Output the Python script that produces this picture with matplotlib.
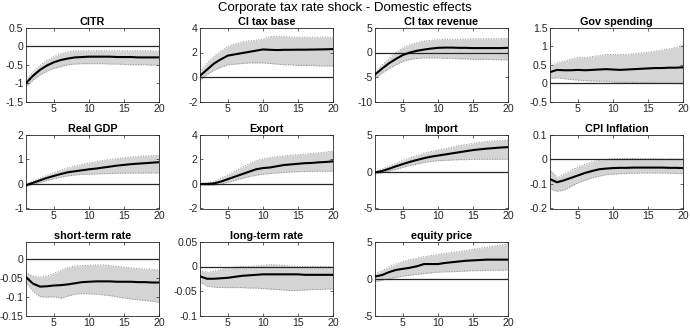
import matplotlib
matplotlib.use("Agg")
import matplotlib.pyplot as plt
import numpy as np

plt.rcParams['font.family'] = ['Liberation Sans', 'DejaVu Sans']

horizon = list(range(1, 21))

titles = ["CITR", "CI tax base", "CI tax revenue", "Gov spending",
          "Real GDP", "Export", "Import", "CPI Inflation",
          "short-term rate", "long-term rate", "equity price"]

citr_med = [-1.0, -0.8, -0.64, -0.52, -0.43, -0.37, -0.33, -0.30, -0.29, -0.28, -0.28, -0.28, -0.28, -0.29, -0.29, -0.29, -0.3, -0.3, -0.3, -0.3]
citr_up = [-0.92, -0.7, -0.52, -0.38, -0.28, -0.2, -0.15, -0.12, -0.12, -0.12, -0.12, -0.12, -0.12, -0.12, -0.12, -0.12, -0.12, -0.12, -0.12, -0.13]
citr_lo = [-1.1, -0.92, -0.78, -0.67, -0.6, -0.55, -0.5, -0.48, -0.47, -0.47, -0.47, -0.47, -0.48, -0.48, -0.49, -0.5, -0.5, -0.5, -0.51, -0.52]

base_med = [0.1, 0.6, 1.1, 1.45, 1.75, 1.85, 1.95, 2.05, 2.15, 2.25, 2.22, 2.2, 2.22, 2.22, 2.23, 2.23, 2.24, 2.25, 2.26, 2.28]
base_up = [0.4, 1.1, 1.7, 2.1, 2.5, 2.7, 2.85, 2.95, 3.0, 3.1, 3.3, 3.3, 3.3, 3.25, 3.25, 3.25, 3.25, 3.25, 3.25, 3.25]
base_lo = [-0.3, 0.2, 0.55, 0.8, 1.0, 1.05, 1.1, 1.15, 1.15, 1.15, 1.1, 1.05, 1.0, 1.0, 0.95, 0.95, 0.95, 0.9, 0.9, 0.9]

rev_med = [-4.5, -3.3, -2.2, -1.3, -0.5, 0.0, 0.35, 0.6, 0.8, 0.95, 1.0, 1.0, 0.95, 0.95, 0.9, 0.9, 0.9, 0.9, 0.9, 0.95]
rev_up = [-4.0, -2.6, -1.2, 0.0, 1.0, 1.6, 2.0, 2.3, 2.5, 2.6, 2.7, 2.7, 2.7, 2.75, 2.8, 2.8, 2.8, 2.8, 2.85, 2.9]
rev_lo = [-5.3, -4.2, -3.3, -2.5, -1.8, -1.4, -1.2, -1.1, -1.1, -1.1, -1.2, -1.2, -1.3, -1.3, -1.4, -1.4, -1.4, -1.45, -1.5, -1.5]

gov_med = [0.3, 0.36, 0.35, 0.35, 0.36, 0.35, 0.36, 0.37, 0.38, 0.37, 0.36, 0.37, 0.38, 0.39, 0.4, 0.41, 0.41, 0.42, 0.42, 0.43]
gov_up = [0.45, 0.55, 0.6, 0.65, 0.7, 0.7, 0.72, 0.75, 0.78, 0.78, 0.78, 0.78, 0.8, 0.82, 0.84, 0.87, 0.9, 0.93, 0.97, 1.02]
gov_lo = [0.12, 0.15, 0.12, 0.1, 0.08, 0.07, 0.06, 0.05, 0.05, 0.03, 0.02, 0.02, 0.02, 0.01, 0.01, 0.0, 0.0, 0.0, -0.01, -0.02]

gdp_med = [-0.05, 0.05, 0.15, 0.25, 0.33, 0.41, 0.48, 0.52, 0.56, 0.6, 0.63, 0.67, 0.71, 0.75, 0.78, 0.81, 0.83, 0.85, 0.87, 0.89]
gdp_up = [0.0, 0.12, 0.24, 0.36, 0.47, 0.57, 0.66, 0.73, 0.8, 0.86, 0.91, 0.96, 1.0, 1.04, 1.07, 1.1, 1.12, 1.14, 1.16, 1.17]
gdp_lo = [-0.1, -0.02, 0.06, 0.14, 0.21, 0.28, 0.33, 0.37, 0.39, 0.4, 0.41, 0.42, 0.43, 0.44, 0.44, 0.45, 0.45, 0.45, 0.45, 0.45]

exp_med = [0.0, 0.0, 0.05, 0.2, 0.4, 0.6, 0.8, 1.0, 1.2, 1.3, 1.35, 1.45, 1.55, 1.6, 1.65, 1.7, 1.72, 1.77, 1.8, 1.85]
exp_up = [0.1, 0.1, 0.2, 0.45, 0.75, 1.05, 1.35, 1.65, 1.9, 2.05, 2.15, 2.25, 2.3, 2.35, 2.4, 2.45, 2.5, 2.55, 2.6, 2.7]
exp_lo = [-0.1, -0.1, -0.1, 0.0, 0.15, 0.3, 0.45, 0.6, 0.72, 0.8, 0.85, 0.9, 0.95, 0.98, 1.0, 1.02, 1.03, 1.05, 1.05, 1.05]

imp_med = [-0.1, 0.1, 0.4, 0.75, 1.05, 1.35, 1.6, 1.85, 2.05, 2.2, 2.35, 2.5, 2.65, 2.8, 2.95, 3.05, 3.15, 3.22, 3.3, 3.35]
imp_up = [0.05, 0.35, 0.75, 1.15, 1.55, 1.9, 2.2, 2.5, 2.75, 2.95, 3.15, 3.35, 3.55, 3.7, 3.85, 4.0, 4.1, 4.2, 4.25, 4.3]
imp_lo = [-0.3, -0.15, 0.1, 0.35, 0.6, 0.85, 1.05, 1.25, 1.4, 1.5, 1.55, 1.6, 1.65, 1.65, 1.7, 1.7, 1.7, 1.7, 1.7, 1.7]

cpi_med = [-0.08, -0.093, -0.085, -0.075, -0.065, -0.055, -0.047, -0.04, -0.037, -0.035, -0.034, -0.034, -0.033, -0.033, -0.033, -0.033, -0.033, -0.034, -0.034, -0.035]
cpi_up = [-0.04, -0.075, -0.06, -0.045, -0.03, -0.02, -0.01, -0.003, 0.0, 0.003, 0.004, 0.004, 0.004, 0.003, 0.003, 0.003, 0.002, 0.002, 0.002, 0.002]
cpi_lo = [-0.12, -0.13, -0.125, -0.11, -0.095, -0.085, -0.075, -0.068, -0.062, -0.06, -0.058, -0.057, -0.056, -0.055, -0.055, -0.055, -0.055, -0.056, -0.057, -0.058]

str_med = [-0.048, -0.065, -0.073, -0.072, -0.07, -0.069, -0.067, -0.064, -0.061, -0.06, -0.059, -0.059, -0.059, -0.06, -0.06, -0.06, -0.061, -0.061, -0.062, -0.062]
str_up = [-0.035, -0.045, -0.048, -0.045, -0.038, -0.03, -0.022, -0.018, -0.017, -0.016, -0.015, -0.015, -0.017, -0.019, -0.021, -0.023, -0.025, -0.026, -0.027, -0.028]
str_lo = [-0.062, -0.085, -0.1, -0.101, -0.1, -0.104, -0.098, -0.093, -0.092, -0.092, -0.093, -0.095, -0.097, -0.1, -0.103, -0.106, -0.108, -0.11, -0.112, -0.115]

ltr_med = [-0.02, -0.025, -0.025, -0.024, -0.023, -0.021, -0.019, -0.018, -0.017, -0.016, -0.016, -0.016, -0.016, -0.016, -0.016, -0.017, -0.017, -0.017, -0.017, -0.017]
ltr_up = [-0.008, -0.012, -0.01, -0.006, -0.003, -0.001, 0.0, 0.0, 0.001, 0.002, 0.004, 0.003, 0.002, 0.001, 0.0, 0.0, 0.0, 0.0, 0.0, 0.0]
ltr_lo = [-0.032, -0.04, -0.042, -0.043, -0.043, -0.043, -0.043, -0.044, -0.044, -0.045, -0.046, -0.047, -0.048, -0.049, -0.049, -0.048, -0.047, -0.047, -0.046, -0.046]

eq_med = [0.3, 0.5, 0.9, 1.2, 1.35, 1.5, 1.7, 2.0, 2.0, 2.0, 2.15, 2.25, 2.35, 2.45, 2.5, 2.55, 2.6, 2.6, 2.6, 2.6]
eq_up = [0.6, 1.1, 1.6, 2.0, 2.35, 2.6, 2.8, 3.0, 3.15, 3.3, 3.45, 3.6, 3.7, 3.85, 4.0, 4.15, 4.3, 4.45, 4.6, 4.75]
eq_lo = [-0.4, -0.2, 0.0, 0.2, 0.35, 0.5, 0.6, 0.7, 0.8, 0.9, 0.95, 0.95, 1.0, 1.05, 1.1, 1.1, 1.15, 1.15, 1.15, 1.2]

medians = [citr_med, base_med, rev_med, gov_med, gdp_med, exp_med, imp_med, cpi_med, str_med, ltr_med, eq_med]
uppers = [citr_up, base_up, rev_up, gov_up, gdp_up, exp_up, imp_up, cpi_up, str_up, ltr_up, eq_up]
lowers = [citr_lo, base_lo, rev_lo, gov_lo, gdp_lo, exp_lo, imp_lo, cpi_lo, str_lo, ltr_lo, eq_lo]

ylims = [(-1.5, 0.5), (-2, 4), (-10, 5), (-0.5, 1.5), (-1, 2), (-2, 4), (-5, 5),
         (-0.2, 0.1), (-0.15, 0.046), (-0.1, 0.05), (-5, 5)]
yticks = [[-1.5, -1, -0.5, 0, 0.5], [-2, 0, 2, 4], [-10, -5, 0, 5], [-0.5, 0, 0.5, 1, 1.5],
          [-1, 0, 1, 2], [-2, 0, 2, 4], [-5, 0, 5], [-0.2, -0.1, 0, 0.1],
          [-0.15, -0.1, -0.05, 0], [-0.1, -0.05, 0, 0.05], [-5, 0, 5]]
xticks = [5, 10, 15, 20]

W, H = 690, 328
fig = plt.figure(figsize=(W / 100, H / 100), dpi=100)

lefts = [26, 200, 375, 550]
tops = [28, 135, 242]
aw, ah = 133, 73.5

for i, t in enumerate(titles):
    r, c = divmod(i, 4)
    ax = fig.add_axes([lefts[c] / W, 1 - (tops[r] + ah) / H, aw / W, ah / H])
    x = np.array(horizon)
    ax.fill_between(x, lowers[i], uppers[i], color='#d4d4d4', lw=0, zorder=1)
    ax.plot(x, uppers[i], ls=':', color='#8a8a8a', lw=0.7, zorder=2)
    ax.plot(x, lowers[i], ls=':', color='#8a8a8a', lw=0.7, zorder=2)
    ax.axhline(0, color='#262626', lw=0.9, zorder=3)
    ax.plot(x, medians[i], color='black', lw=1.5, zorder=4)
    ax.set_xlim(1, 20)
    ax.set_ylim(*ylims[i])
    ax.set_xticks(xticks)
    ax.set_yticks(yticks[i])
    ax.set_yticklabels([f"{v:g}" for v in yticks[i]])
    ax.tick_params(direction='in', length=2, width=0.5, labelsize=7.6, pad=1.8,
                   top=True, right=True, colors='#262626', labelcolor='#262626')
    for s in ax.spines.values():
        s.set_linewidth(0.6)
        s.set_color('#262626')
    ax.set_title(t, fontsize=7.8, fontweight='bold', pad=2.5)

fig.text(0.5, 1 - 8 / H, "Corporate tax rate shock - Domestic effects",
         ha='center', va='center', fontsize=9.5)

fig.savefig("out.png", dpi=100)
